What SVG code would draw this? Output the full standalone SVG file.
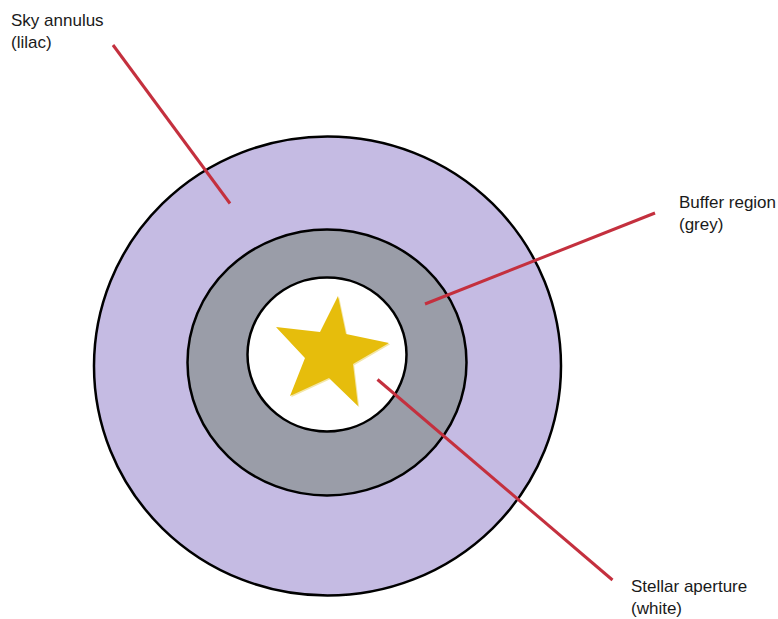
<svg xmlns="http://www.w3.org/2000/svg" width="778" height="619" viewBox="0 0 778 619">
  <defs>
    <style>
      .ring { stroke: #000; stroke-width: 2.5; }
      .lbl { font-family: "Liberation Sans", Arial, sans-serif; font-size: 17px; fill: #1a1a1a; }
      .lead { stroke: #C4303E; stroke-width: 3; fill: none; stroke-linecap: butt; }
    </style>
  </defs>
  <rect width="778" height="619" fill="#fff"/>
  <g id="sky-annulus">
    <ellipse class="ring" cx="327.5" cy="366" rx="233.5" ry="229.5" fill="#C5BBE3"/>
  </g>
  <g id="buffer-region">
    <ellipse class="ring" cx="327" cy="362.5" rx="139.5" ry="133" fill="#9A9DA8"/>
  </g>
  <g id="stellar-aperture">
    <ellipse class="ring" cx="327" cy="354.5" rx="79.5" ry="77" fill="#fff"/>
    <polygon points="338,296 346,334 389,343 353,364 358,406 329,378 290,396 305,358 276,327 320,332" fill="#F3E6A8" transform="translate(1.2,1.2)"/>
    <polygon points="338,296 346,334 389,343 353,364 358,406 329,378 290,396 305,358 276,327 320,332" fill="#E6BD0C"/>
  </g>
  <g id="connectors">
    <line class="lead" x1="113" y1="45" x2="230" y2="203.5"/>
    <line class="lead" x1="655" y1="213" x2="425" y2="304"/>
    <line class="lead" x1="377.5" y1="379.5" x2="612.5" y2="580"/>
  </g>
  <g id="label-sky">
    <text class="lbl" x="11" y="26">Sky annulus</text>
    <text class="lbl" x="11" y="48">(lilac)</text>
  </g>
  <g id="label-buffer">
    <text class="lbl" x="679" y="208">Buffer region</text>
    <text class="lbl" x="679" y="230">(grey)</text>
  </g>
  <g id="label-stellar">
    <text class="lbl" x="631" y="592">Stellar aperture</text>
    <text class="lbl" x="631" y="614">(white)</text>
  </g>
</svg>
